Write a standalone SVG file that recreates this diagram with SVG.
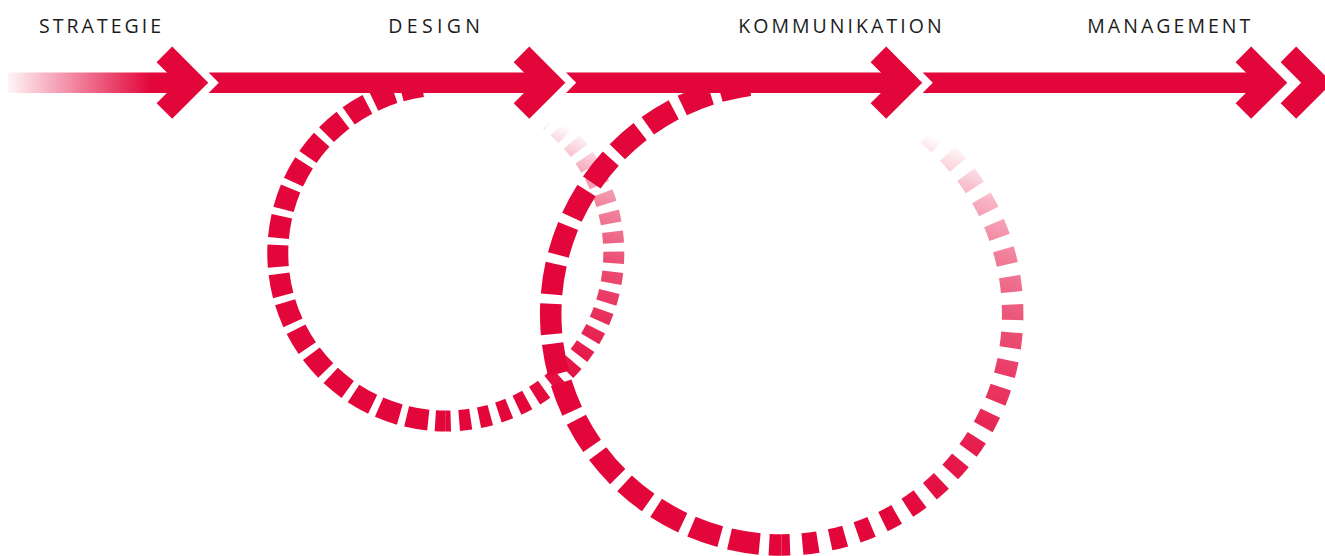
<svg xmlns="http://www.w3.org/2000/svg" width="1325" height="556" viewBox="0 0 1325 556">
  <defs>
    <style>
      .lbl { font-family: "Open Sans", "Noto Sans", sans-serif; font-size: 19.5px; fill: #1c1c1c; }
      .bar { fill: #E3063B; }
      .chev { fill: none; stroke: #E3063B; stroke-width: 22; stroke-linejoin: miter; stroke-miterlimit: 4; stroke-linecap: butt; }
      .loop { fill: none; stroke-linecap: butt; }
    </style>
    <linearGradient id="fadeIn" gradientUnits="userSpaceOnUse" x1="8" y1="0" x2="150" y2="0">
      <stop offset="0" stop-color="#E3063B" stop-opacity="0.04"/>
      <stop offset="1" stop-color="#E3063B" stop-opacity="1"/>
    </linearGradient>
    <linearGradient id="fadeL" gradientUnits="userSpaceOnUse" x1="549.2" y1="120.6" x2="445.8" y2="421">
      <stop offset="0" stop-color="#E3063B" stop-opacity="0"/>
      <stop offset="0.05" stop-color="#E3063B" stop-opacity="0.15"/>
      <stop offset="0.1" stop-color="#E3063B" stop-opacity="0.3"/>
      <stop offset="0.2" stop-color="#E3063B" stop-opacity="0.5"/>
      <stop offset="0.35" stop-color="#E3063B" stop-opacity="0.7"/>
      <stop offset="0.6" stop-color="#E3063B" stop-opacity="0.88"/>
      <stop offset="0.85" stop-color="#E3063B" stop-opacity="1"/>
      <stop offset="1" stop-color="#E3063B" stop-opacity="1"/>
    </linearGradient>
    <linearGradient id="fadeB" gradientUnits="userSpaceOnUse" x1="923.9" y1="132" x2="781.7" y2="545">
      <stop offset="0" stop-color="#E3063B" stop-opacity="0"/>
      <stop offset="0.05" stop-color="#E3063B" stop-opacity="0.15"/>
      <stop offset="0.1" stop-color="#E3063B" stop-opacity="0.3"/>
      <stop offset="0.2" stop-color="#E3063B" stop-opacity="0.5"/>
      <stop offset="0.35" stop-color="#E3063B" stop-opacity="0.7"/>
      <stop offset="0.6" stop-color="#E3063B" stop-opacity="0.88"/>
      <stop offset="0.85" stop-color="#E3063B" stop-opacity="1"/>
      <stop offset="1" stop-color="#E3063B" stop-opacity="1"/>
    </linearGradient>
  </defs>
  <rect width="1325" height="556" fill="#ffffff"/>

  <g id="connectors">
    <g id="loop-small">
      <path class="loop" stroke="#E3063B" stroke-width="21" stroke-dasharray="22 7.04" d="M 422.42 86.63 A 168 168 0 0 0 445.8 421"/>
      <path class="loop" stroke="url(#fadeL)" stroke-width="21" stroke-dasharray="11.5 8.5" stroke-dashoffset="6.5" d="M 445.8 421 A 168 168 0 0 0 549.23 120.61"/>
    </g>
    <g id="loop-large">
      <path class="loop" stroke="#E3063B" stroke-width="21.5" stroke-dasharray="30.5 9.53" d="M 749.55 85.25 A 231 231 0 0 0 781.7 545"/>
      <path class="loop" stroke="url(#fadeB)" stroke-width="21.5" stroke-dasharray="15.5 12.5" stroke-dashoffset="7.2" d="M 781.7 545 A 231 231 0 0 0 923.9 131.97"/>
    </g>
  </g>

  <g id="strategie">
    <rect x="8" y="72.5" width="187" height="20.5" fill="url(#fadeIn)"/>
    <polyline class="chev" points="164.4,54.4 192.7,82.7 164.4,111"/>
    <text class="lbl" x="39" y="33" textLength="122" lengthAdjust="spacing">STRATEGIE</text>
  </g>

  <g id="design">
    <polygon class="bar" points="208.6,72.5 552,72.5 552,93 208.6,93 218.8,82.75"/>
    <polyline class="chev" points="521.5,54.4 549.8,82.7 521.5,111"/>
    <text class="lbl" x="388.3" y="33" textLength="91.7" lengthAdjust="spacing">DESIGN</text>
  </g>

  <g id="kommunikation">
    <polygon class="bar" points="566,72.5 909,72.5 909,93 566,93 576.2,82.75"/>
    <polyline class="chev" points="878.4,54.4 906.7,82.7 878.4,111"/>
    <text class="lbl" x="738.2" y="33" textLength="203.5" lengthAdjust="spacing">KOMMUNIKATION</text>
  </g>

  <g id="management">
    <polygon class="bar" points="922.6,72.5 1273,72.5 1273,93 922.6,93 932.8,82.75"/>
    <polyline class="chev" points="1243.4,54.4 1271.7,82.7 1243.4,111"/>
    <polyline class="chev" points="1288.4,54.4 1316.7,82.7 1288.4,111"/>
    <text class="lbl" x="1087.3" y="33" textLength="163" lengthAdjust="spacing">MANAGEMENT</text>
  </g>
</svg>
